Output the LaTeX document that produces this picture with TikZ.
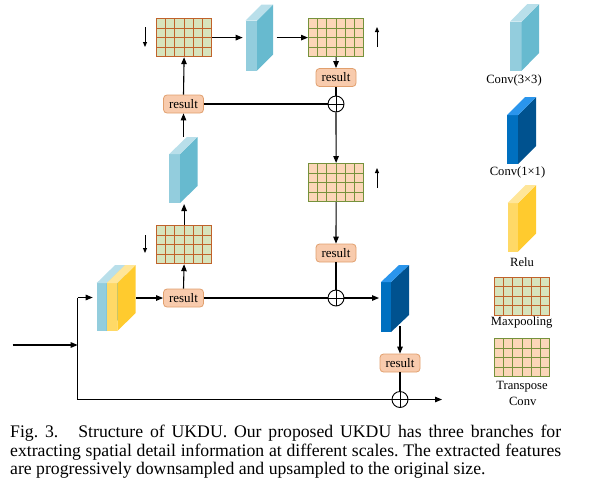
\documentclass[tikz,border=0pt]{standalone}
\usepackage{fontspec}
\setmainfont{Liberation Serif}
\usetikzlibrary{calc,arrows.meta}
\definecolor{cthF}{HTML}{93CDDD}
\definecolor{cthS}{HTML}{67BACF}
\definecolor{cthT}{HTML}{B9DFEA}
\definecolor{coneF}{HTML}{0070C0}
\definecolor{coneS}{HTML}{00528F}
\definecolor{coneT}{HTML}{2A95EC}
\definecolor{relF}{HTML}{FFD966}
\definecolor{relS}{HTML}{FFCB2E}
\definecolor{relT}{HTML}{FFE699}
\definecolor{mpF}{HTML}{D7E4BD}
\definecolor{mpD}{HTML}{C0622B}
\definecolor{tpF}{HTML}{FBD6B8}
\definecolor{tpD}{HTML}{76923C}
\definecolor{resF}{HTML}{F8CBAD}
\definecolor{resD}{HTML}{E1A06E}
\newcommand{\mygridlines}[1]{%
  \foreach \i in {1,...,5}{\draw[#1,line width=0.9pt] ($(path picture bounding box.north west)!\i/6!(path picture bounding box.north east)$) -- ($(path picture bounding box.south west)!\i/6!(path picture bounding box.south east)$);}%
  \foreach \j in {1,2,3}{\draw[#1,line width=0.9pt] ($(path picture bounding box.north west)!\j/4!(path picture bounding box.south west)$) -- ($(path picture bounding box.north east)!\j/4!(path picture bounding box.south east)$);}%
}
% name, x, y, w, h, colour prefix, dx, dy
\newcommand{\myslab}[8]{%
  \node[fill=#6F,minimum width=#4pt,minimum height=#5pt,inner sep=0,outer sep=0,anchor=north west] (#1) at (#2,#3) {};
  \fill[#6S] (#1.north east) -- ++(#7,-#8) -- ++(0,#5) -- (#1.south east) -- cycle;
  \fill[#6T] (#1.north west) -- ++(#7,-#8) -- ++(#4,0) -- (#1.north east) -- cycle;
}
\tikzset{
  conn/.style={line width=1.1pt,-{Triangle[length=7pt,width=5.5pt]}},
  plain/.style={line width=1.1pt},
  smallarr/.style={line width=0.9pt,-{Triangle[length=5pt,width=4pt]}},
  resbox/.style={draw=resD,fill=resF,rounded corners=3.5pt,minimum width=40pt,minimum height=18pt,inner sep=0,line width=0.8pt,font=\fontsize{13}{14}\selectfont},
  oplus/.style={circle,draw,line width=0.9pt,minimum size=16pt,inner sep=0},
  lbl/.style={font=\fontsize{12.6}{14}\selectfont,inner sep=0},
  mpool/.style={fill=mpF,draw=mpD,line width=1.2pt,minimum width=55pt,minimum height=38pt,inner sep=0,anchor=north west,path picture={\mygridlines{mpD}}},
  tpool/.style={fill=tpF,draw=tpD,line width=1.2pt,minimum width=55pt,minimum height=38pt,inner sep=0,anchor=north west,path picture={\mygridlines{tpD}}},
}
\begin{document}
\frenchspacing
\begin{tikzpicture}[x=1pt,y=-1pt]
\useasboundingbox (0,0) rectangle (604,493);
% grids
\node[mpool] (mp1) at (156,18) {};
\node[tpool] (tp1) at (308,18) {};
\node[tpool] (tp2) at (308,163) {};
\node[mpool] (mp2) at (156,225) {};
\node[mpool] (mpL) at (494,276.5) {};
\node[tpool] (tpL) at (494,338) {};
% slabs
\myslab{cv1}{245.7}{20.5}{11.5}{50}{cth}{16}{16}
\myslab{cv2}{169.3}{154}{10.7}{49}{cth}{17.5}{17}
\myslab{blkc}{96.7}{283}{10}{48}{cth}{18.4}{18}
\myslab{blkr}{106.7}{283}{10.6}{48}{rel}{18.4}{18}
\myslab{c11}{381}{282}{10}{50}{cone}{18}{17}
\myslab{lc3}{510}{21.7}{11.7}{49}{cth}{17.3}{17.7}
\myslab{lc1}{507}{115}{11}{49}{cone}{18}{18}
\myslab{lre}{507.7}{203}{10.3}{48.7}{rel}{18}{18}
% legend labels
\node[lbl] (t1) at (514,80) {Conv(3×3)};
\node[lbl] (t2) at (517.5,172) {Conv(1×1)};
\node[lbl] (t3) at (522,261.7) {Relu};
\node[lbl] (t4) at (521.7,322.7) {Maxpooling};
\node[lbl] (t5) at (522,386.7) {Transpose};
\node[lbl] (t6) at (522.7,401) {Conv};
% result boxes
\node[resbox] (r1) at (336,77.5) {result};
\node[resbox] (r2) at (183.5,104) {result};
\node[resbox] (r3) at (336,253) {result};
\node[resbox] (r4) at (183.5,298) {result};
\node[resbox] (r5) at (400,363) {result};
% oplus
\node[oplus] (o1) at (336,104) {};
\node[oplus] (o2) at (336,298) {};
\node[oplus] (o3) at (400,399.5) {};
\foreach \o in {o1,o2,o3}{\draw[line width=1pt] (\o.north) -- (\o.south) (\o.west) -- (\o.east);}
% coordinates
\coordinate (in) at (12.7,345);
\coordinate (j1) at (77.7,345);
\coordinate (jt) at (77.7,297.5);
\coordinate (jb) at (77.7,399.5);
\coordinate (out) at (442,399.5);
\coordinate (c11out) at ($(c11.south east)+(9,-6)$);
\coordinate (da1) at (145,27); \coordinate (da2) at (145,47);
\coordinate (db1) at (145,235); \coordinate (db2) at (145,253);
\coordinate (ua1) at (377,47); \coordinate (ua2) at (377,27);
\coordinate (ub1) at (377,188); \coordinate (ub2) at (377,168);
% connectors
\draw[conn] (in) -- (j1);
\draw[plain] (jt) -- (jb);
\draw[conn,shorten >=4pt] (jt) -- (jt -| blkc.west);
\draw[conn] (jb) -- (out);
\draw[conn] ([xshift=19pt]blkr.east |- r4.west) -- (r4.west);
\draw[conn] (r4.north) -- (mp2.south);
\draw[conn,shorten >=1pt] (mp2.north) -- (mp2.north |- cv2.south);
\draw[conn] ([yshift=17pt]cv2.north -| r2.south) -- (r2.south);
\draw[conn] (r2.north) -- (mp1.south);
\draw[conn,shorten >=3pt] (mp1.east) -- (mp1.east -| cv1.west);
\draw[conn] ([xshift=19.5pt]cv1.east |- tp1.west) -- (tp1.west);
\draw[conn] (tp1.south) -- (r1.north);
\draw[plain] (r1.south) -- (o1.north);
\draw[plain] (r2.east) -- (o1.west);
\draw[conn] (o1.south) -- (tp2.north);
\draw[conn] (tp2.south) -- (r3.north);
\draw[plain] (r3.south) -- (o2.north);
\draw[plain] (r4.east) -- (o2.west);
\draw[conn,shorten >=2pt] (o2.east) -- (o2.east -| c11.west);
\draw[conn] (c11out) -- (r5.north);
\draw[plain] (r5.south) -- (o3.north);
\draw[smallarr] (da1) -- (da2);
\draw[smallarr] (db1) -- (db2);
\draw[smallarr] (ua1) -- (ua2);
\draw[smallarr] (ub1) -- (ub2);
% caption
\node[anchor=north west,inner sep=0,text width=551pt,align=justify,font=\fontsize{17.7}{18.5}\selectfont] (cap) at (10,425) {Fig.\ 3.\hspace{20pt}Structure of UKDU. Our proposed UKDU has three branches for\linebreak extracting spatial detail information at different scales. The extracted features\linebreak are progressively downsampled and upsampled to the original size.};
\end{tikzpicture}
\end{document}
